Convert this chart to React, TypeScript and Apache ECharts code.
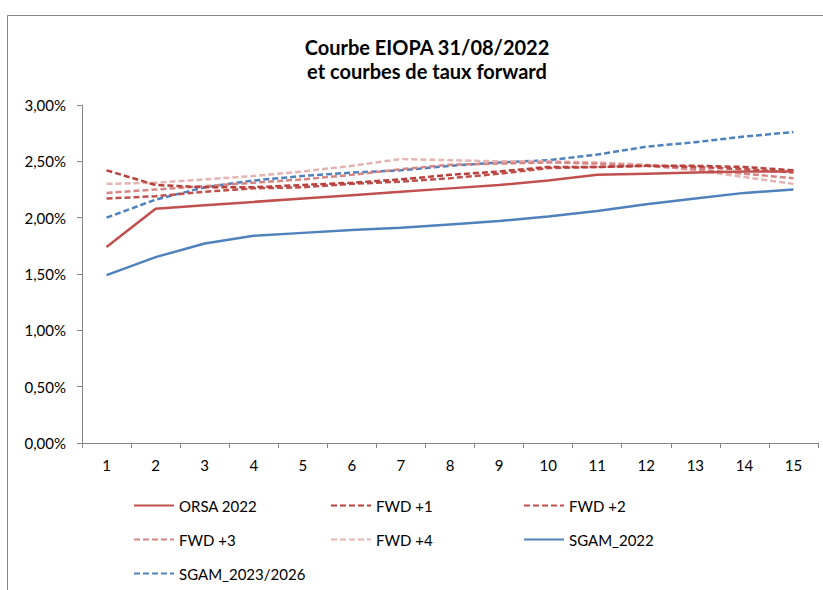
import React, { useEffect, useRef } from "react";
import * as echarts from "echarts";

const categories = ["1", "2", "3", "4", "5", "6", "7", "8", "9", "10", "11", "12", "13", "14", "15"];
const orsa2022 = [1.74, 2.08, 2.11, 2.14, 2.17, 2.2, 2.23, 2.26, 2.29, 2.33, 2.38, 2.39, 2.4, 2.41, 2.41];
const fwd1 = [2.42, 2.29, 2.27, 2.27, 2.29, 2.31, 2.34, 2.38, 2.41, 2.45, 2.45, 2.46, 2.46, 2.45, 2.42];
const fwd2 = [2.17, 2.19, 2.23, 2.26, 2.27, 2.3, 2.32, 2.35, 2.39, 2.44, 2.45, 2.46, 2.45, 2.43, 2.4];
const fwd3 = [2.22, 2.25, 2.28, 2.31, 2.34, 2.38, 2.43, 2.47, 2.48, 2.49, 2.48, 2.46, 2.43, 2.39, 2.35];
const fwd4 = [2.3, 2.31, 2.34, 2.37, 2.41, 2.46, 2.52, 2.51, 2.5, 2.5, 2.49, 2.47, 2.42, 2.36, 2.3];
const sgam2022 = [1.49, 1.65, 1.77, 1.84, 1.865, 1.89, 1.91, 1.94, 1.97, 2.01, 2.06, 2.12, 2.17, 2.22, 2.25];
const sgam2023 = [2.0, 2.16, 2.27, 2.33, 2.37, 2.4, 2.42, 2.46, 2.49, 2.51, 2.56, 2.63, 2.67, 2.72, 2.76];

const seriesNames = ["ORSA 2022", "FWD +1", "FWD +2", "FWD +3", "FWD +4", "SGAM_2022", "SGAM_2023/2026"];
const seriesData = [orsa2022, fwd1, fwd2, fwd3, fwd4, sgam2022, sgam2023];
const seriesColors = ["#C0504D", "#B8403D", "#C0504D", "#D58583", "#E5B3B2", "#4F81BD", "#4F81BD"];
const seriesDashed = [false, true, true, true, true, false, true];

const FONT = "Lato, 'Open Sans', sans-serif";

export default function App() {
  const ref = useRef<HTMLDivElement>(null);
  useEffect(() => {
    if (!ref.current) return;
    const chart = echarts.init(ref.current, null, { renderer: "svg" });
    const legendPos = [
      [128, 493], [325, 493], [518, 493],
      [128, 527], [325, 527], [518, 527],
      [128, 561],
    ];
    chart.setOption({
      animation: false,
      backgroundColor: "#ffffff",
      title: {
        text: "Courbe EIOPA 31/08/2022\net courbes de taux forward",
        left: 422,
        top: 30,
        textAlign: "center",
        textStyle: { fontFamily: FONT, fontSize: 20, fontWeight: "bold", color: "#000", lineHeight: 24 },
      },
      graphic: [
        {
          type: "rect",
          shape: { x: 7.5, y: 15.5, width: 900, height: 700 },
          style: { fill: "none", stroke: "#868686", lineWidth: 1 },
          silent: true,
        },
      ],
      legend: seriesNames.map((n, i) => ({
        data: [n],
        left: legendPos[i][0],
        top: legendPos[i][1],
        itemWidth: 40,
        itemHeight: 18,
        itemGap: 4,
        itemStyle: { opacity: 0 },
        textStyle: { fontFamily: FONT, fontSize: 15, color: "#000" },
      })),
      grid: { left: 82, top: 105, width: 736, height: 338, containLabel: false },
      xAxis: {
        type: "category",
        data: categories,
        boundaryGap: true,
        axisLine: { lineStyle: { color: "#868686", width: 1 } },
        axisTick: { show: true, length: 5, inside: false, lineStyle: { color: "#868686" } },
        axisLabel: { fontFamily: FONT, fontSize: 15, color: "#000", margin: 14 },
        splitLine: { show: false },
      },
      yAxis: {
        type: "value",
        min: 0,
        max: 3,
        interval: 0.5,
        axisLine: { show: true, lineStyle: { color: "#868686", width: 1 } },
        axisTick: { show: true, length: 5, lineStyle: { color: "#868686" } },
        axisLabel: {
          fontFamily: FONT,
          fontSize: 15,
          color: "#000",
          margin: 16,
          formatter: (v: number) => v.toFixed(2).replace(".", ",") + "%",
        },
        splitLine: { show: false },
      },
      series: seriesNames.map((n, i) => ({
        name: n,
        type: "line",
        data: seriesData[i],
        symbol: "none",
        color: seriesColors[i],
        lineStyle: {
          color: seriesColors[i],
          width: 2.5,
          type: seriesDashed[i] ? [6, 3] : "solid",
        },
        z: 10 - i,
      })),
    });
    return () => chart.dispose();
  }, []);
  return (
    <div
      ref={ref}
      style={{ position: "absolute", left: 0, top: 0, width: 823, height: 590 }}
    />
  );
}
